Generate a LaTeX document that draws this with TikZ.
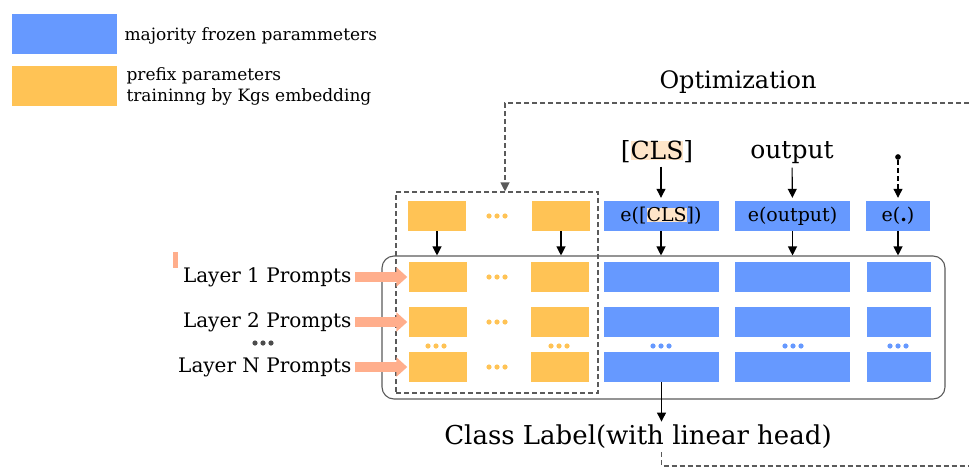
\documentclass[tikz,border=0pt]{standalone}
\usepackage{fontspec}
\setmainfont{DejaVu Serif}
\usepackage{xcolor}
\definecolor{frozen}{RGB}{102,153,255}
\definecolor{prefixc}{RGB}{255,195,85}
\definecolor{salmon}{RGB}{255,174,140}
\definecolor{peach}{RGB}{255,229,200}
\definecolor{framec}{RGB}{90,90,90}
\usepackage{tikz}
\usetikzlibrary{arrows.meta,positioning,calc}
\tikzset{
  frozenbox/.style={fill=frozen,minimum height=30pt,inner sep=0pt,font=\fontsize{19}{21}\selectfont},
  prefixbox/.style={fill=prefixc,minimum width=58pt,minimum height=30pt,inner sep=0pt},
  flow/.style={-{Triangle[length=9pt,width=9pt]},line width=1.1pt},
  optloop/.style={dash pattern=on 5pt off 3pt,line width=1.1pt,draw=framec},
  feed/.style={-{Triangle[length=11pt,width=19pt]},line width=10pt,draw=salmon,shorten >=1pt},
}
\newcommand\hl[1]{{\setlength{\fboxsep}{0pt}\colorbox{peach}{#1}}}
\newcommand\threedots[2]{\foreach \d in {-8,0,8} \fill[fill=#2] ($(#1)+(\d,0)$) circle (2.6pt);}

\begin{document}
\begin{tikzpicture}[x=1pt,y=-1pt]
\useasboundingbox (0,0) rectangle (969,469);
% legend
\node[fill=frozen,minimum width=105pt,minimum height=40pt] (keyfrozen) at (64.5,34) {};
\node[fill=prefixc,minimum width=105pt,minimum height=40pt] (keyprefix) at (64.5,86) {};
\node[anchor=west,font=\fontsize{17}{21}\selectfont] (txtfrozen) at (121,36) {majority frozen parammeters};
\node[anchor=west,align=left,font=\fontsize{17}{21}\selectfont] (txtprefix) at (123,86)
  {prefix parameters\\traininng by Kgs embedding};
% inputs
\node[font=\fontsize{24}{26}\selectfont] (opt) at (738,82) {Optimization};
\node[font=\fontsize{25}{28}\selectfont] (wcls) at (657,152) {[\hl{CLS}]};
\node[font=\fontsize{25}{28}\selectfont] (wout) at (792,153) {output};
\node[circle,fill,inner sep=2pt] (wdot) at (898,157) {};
% embedding row
\node[prefixbox] (p1) at (437,216) {};
\node[prefixbox] (p2) at (561,216) {};
\node[frozenbox,minimum width=115pt] (ecls) at (661,216) {e([\hl{CLS}])};
\node[frozenbox,minimum width=115pt] (eout) at (792.5,216) {e(output)};
\node[frozenbox,minimum width=64pt] (edot) at (898,216) {e(\textbf{.})};
% layers
\foreach \r/\y in {1/277,2/322,3/367}{
  \node[prefixbox] (p1r\r) at (437.5,\y) {};
  \node[prefixbox] (p2r\r) at (560,\y) {};
  \node[frozenbox,minimum width=115pt] (c1r\r) at (661.5,\y) {};
  \node[frozenbox,minimum width=115pt] (c2r\r) at (792.5,\y) {};
  \node[frozenbox,minimum width=64pt] (c3r\r) at (898.5,\y) {};
  \coordinate (gap\r) at (497,\y);
}
\node[draw=framec,line width=1.1pt,rounded corners=12pt,minimum width=563pt,minimum height=143pt] (model) at (663.5,327.5) {};
\node[optloop,minimum width=202pt,minimum height=201pt] (trained) at (497,292.5) {};
\node[font=\fontsize{20}{22}\selectfont,anchor=east] (lay1) at (355,277) {Layer 1 Prompts};
\node[font=\fontsize{20}{22}\selectfont,anchor=east] (lay2) at (355,322) {Layer 2 Prompts};
\node[font=\fontsize{20}{22}\selectfont,anchor=east] (layn) at (355,367) {Layer N Prompts};
\node[font=\fontsize{26}{28}\selectfont] (clab) at (638,437) {Class Label(with linear head)};
\fill[salmon] (173,252) rectangle (178,268);
% dots
\coordinate (d0) at (497,216);
\threedots{d0}{prefixc}
\threedots{gap1}{prefixc}
\threedots{gap2}{prefixc}
\threedots{gap3}{prefixc}
\coordinate (d1) at (436,346); \threedots{d1}{prefixc}
\coordinate (d2) at (559,346); \threedots{d2}{prefixc}
\coordinate (d3) at (661,346); \threedots{d3}{frozen}
\coordinate (d4) at (793,346); \threedots{d4}{frozen}
\coordinate (d5) at (898,346); \threedots{d5}{frozen}
\coordinate (d6) at (263,343); \threedots{d6}{black!70}
% connectors
\draw[flow,shorten >=3pt] (wcls.south -| ecls) -- (ecls);
\draw[flow,shorten >=3pt] (wout) -- (eout);
\draw[flow,dash pattern=on 5pt off 3pt,shorten >=3pt] (wdot) -- (edot);
\foreach \t in {p1,p2,ecls,eout,edot}
  \draw[flow] (\t.south) -- (\t.south |- model.north);
\draw[feed] (lay1) -- (p1r1);
\draw[feed] (lay2) -- (p1r2);
\draw[feed] (layn) -- (p1r3);
\draw[flow] (c1r3.south) -- (c1r3.south |- clab.north);
\draw[optloop,-{Triangle[length=9pt,width=9pt]}] (969,103) -| (trained.north -| 505,0);
\draw[optloop] (c1r3.south |- 0,452) |- (969,466);
\end{tikzpicture}
\end{document}
